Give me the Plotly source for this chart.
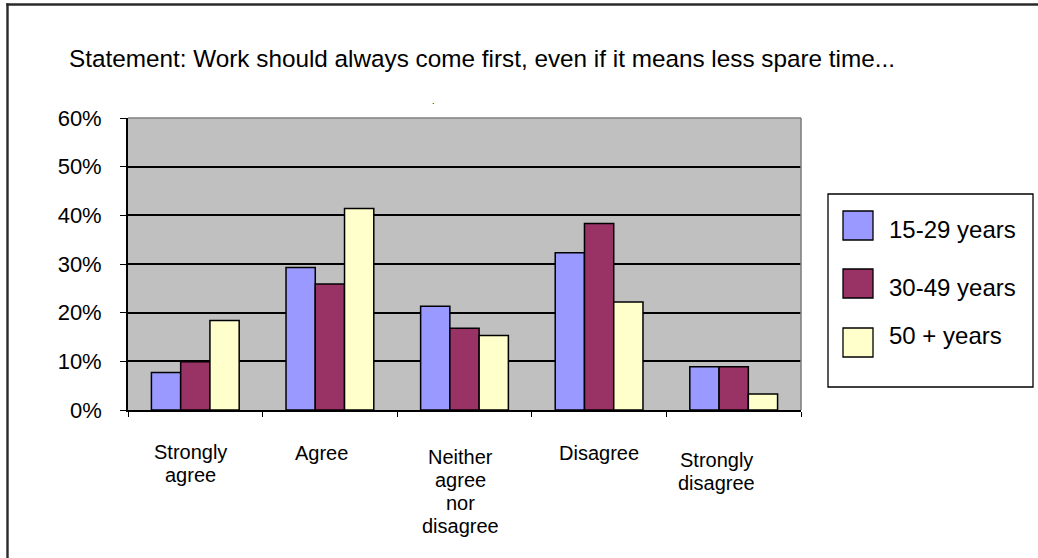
import plotly.graph_objects as go

# ---------------- data ----------------
categories = ["Strongly agree", "Agree", "Neither agree nor disagree", "Disagree", "Strongly disagree"]
category_label_lines = [["Strongly", "agree"], ["Agree"], ["Neither", "agree", "nor", "disagree"],
                        ["Disagree"], ["Strongly", "disagree"]]
series_names = ["15-29 years", "30-49 years", "50 + years"]
values_15_29 = [0.077, 0.293, 0.213, 0.323, 0.089]
values_30_49 = [0.099, 0.259, 0.168, 0.383, 0.089]
values_50_plus = [0.184, 0.414, 0.153, 0.222, 0.033]
series_colors = ["#9999FF", "#993366", "#FFFFCC"]
y_tick_values = [0, 0.1, 0.2, 0.3, 0.4, 0.5, 0.6]
title_text = "Statement: Work should always come first, even if it means less spare time..."

# ---------------- layout geometry (pixels) ----------------
W, H = 1038, 558
L, R, T, B = 128, 237, 118, 148
PW, PH = W - L - R, H - T - B
FONT = "Liberation Sans, Arial, sans-serif"


def xp(px):
    return (px - L) / PW


def yp(py):
    return (H - B - py) / PH


fig = go.Figure()
for name, vals, col in zip(series_names, [values_15_29, values_30_49, values_50_plus], series_colors):
    fig.add_trace(go.Bar(
        x=categories, y=vals, name=name,
        marker=dict(color=col, line=dict(color="#000000", width=1.5)),
        showlegend=False, hoverinfo="skip",
    ))

shapes = []
annotations = []

# outer chart frame (left + top edges visible), drawn as thin filled bands
shapes.append(dict(type="rect", xref="paper", yref="paper", x0=xp(6.3), x1=xp(W), y0=yp(3.3), y1=yp(5.7),
                   line=dict(width=0), fillcolor="#2a2a2a", layer="above"))
shapes.append(dict(type="rect", xref="paper", yref="paper", x0=xp(6.3), x1=xp(8.7), y0=yp(3.3), y1=yp(H),
                   line=dict(width=0), fillcolor="#2a2a2a", layer="above"))
# plot area top/right border in grey
shapes.append(dict(type="line", xref="x domain", yref="y domain", x0=0, x1=1, y0=1, y1=1,
                   line=dict(color="#808080", width=1.6), layer="above"))
shapes.append(dict(type="line", xref="x domain", yref="y domain", x0=1, x1=1, y0=0, y1=1,
                   line=dict(color="#808080", width=1.6), layer="above"))

# title
annotations.append(dict(text=title_text, xref="paper", yref="paper", x=xp(67), y=yp(59),
                        xanchor="left", yanchor="middle", showarrow=False,
                        font=dict(family=FONT, size=24.3, color="#000000")))
# stray dot
annotations.append(dict(text=".", xref="paper", yref="paper", x=xp(433), y=yp(101),
                        xanchor="center", yanchor="middle", showarrow=False,
                        font=dict(family=FONT, size=9, color="#000000")))

# category labels
label_centers = [190, 321, 460, 599, 716]
label_first_line = [452, 453, 457, 453, 460]
line_step = 23
for lines, cx, y0 in zip(category_label_lines, label_centers, label_first_line):
    for i, ln in enumerate(lines):
        annotations.append(dict(text=ln, xref="paper", yref="paper", x=xp(cx), y=yp(y0 + i * line_step),
                                xanchor="center", yanchor="middle", showarrow=False,
                                font=dict(family=FONT, size=20, color="#000000")))

# legend (manual)
shapes.append(dict(type="rect", xref="paper", yref="paper", x0=xp(828), x1=xp(1033), y0=yp(194), y1=yp(387),
                   line=dict(color="#000000", width=1.3), fillcolor="#FFFFFF", layer="above"))
swatch_tops = [211, 269, 328]
text_centers = [229, 287, 335]
for name, col, st, tc in zip(series_names, series_colors, swatch_tops, text_centers):
    shapes.append(dict(type="rect", xref="paper", yref="paper", x0=xp(843), x1=xp(873), y0=yp(st), y1=yp(st + 29),
                       line=dict(color="#000000", width=1.3), fillcolor=col, layer="above"))
    annotations.append(dict(text=name, xref="paper", yref="paper", x=xp(887), y=yp(tc),
                            xanchor="left", yanchor="middle", showarrow=False,
                            font=dict(family=FONT, size=24, color="#000000")))

fig.update_layout(
    width=W, height=H,
    margin=dict(l=L, r=R, t=T, b=B, pad=0),
    paper_bgcolor="#FFFFFF", plot_bgcolor="#C0C0C0",
    barmode="group", bargap=0.348, bargroupgap=0,
    shapes=shapes, annotations=annotations,
    showlegend=False,
    font=dict(family=FONT, color="#000000"),
)
fig.update_xaxes(type="category", tickson="boundaries", ticks="outside", ticklen=5, tickwidth=1.2,
                 tickcolor="#000000", showticklabels=False, showline=True, linecolor="#000000", linewidth=1.8,
                 showgrid=False, zeroline=False, range=[-0.5, 4.5], fixedrange=True)
fig.update_yaxes(range=[0, 0.6], tickvals=y_tick_values, tickformat=".0%", ticks="outside", ticklen=6,
                 tickwidth=1.2, tickcolor="#000000", showline=True, linecolor="#000000", linewidth=1.8,
                 showgrid=True, gridcolor="#000000", gridwidth=1.8, zeroline=False,
                 ticklabelstandoff=14, tickfont=dict(family=FONT, size=22, color="#000000"), fixedrange=True)

fig.write_html("out.html", config=dict(displayModeBar=False))
